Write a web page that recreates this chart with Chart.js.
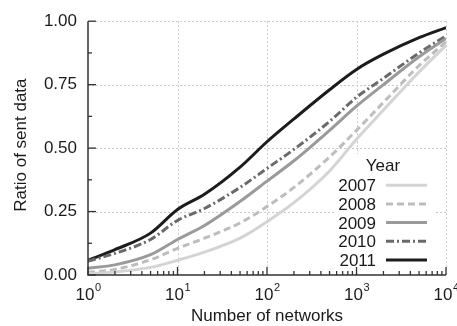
<!DOCTYPE html>
<html>
<head>
<meta charset="utf-8">
<script src="https://cdn.jsdelivr.net/npm/chart.js@4/dist/chart.umd.min.js"></script>
<style>
html,body{margin:0;padding:0;background:#fff;}
#wrap{width:457px;height:326px;position:relative;}
</style>
</head>
<body>
<div id="wrap"><canvas id="c" width="457" height="326"></canvas></div>
<script>
// ---- data ----
const years = ['2007', '2008', '2009', '2010', '2011'];
const networks = [1, 2, 5, 10, 20, 50, 100, 200, 500, 1000, 2000, 5000, 10000];
const s2007 = [0.005, 0.012, 0.030, 0.058, 0.090, 0.145, 0.210, 0.285, 0.410, 0.535, 0.650, 0.800, 0.905];
const s2008 = [0.010, 0.022, 0.060, 0.105, 0.145, 0.205, 0.270, 0.345, 0.465, 0.570, 0.680, 0.825, 0.918];
const s2009 = [0.027, 0.040, 0.080, 0.140, 0.195, 0.290, 0.370, 0.450, 0.570, 0.665, 0.750, 0.860, 0.932];
const s2010 = [0.055, 0.085, 0.140, 0.215, 0.262, 0.345, 0.420, 0.495, 0.605, 0.700, 0.775, 0.875, 0.942];
const s2011 = [0.058, 0.100, 0.165, 0.258, 0.318, 0.425, 0.525, 0.615, 0.730, 0.810, 0.870, 0.935, 0.975];
const yTickValues = [0, 0.25, 0.5, 0.75, 1.0];
const xTickExponents = [0, 1, 2, 3, 4];
const xTitle = 'Number of networks';
const yTitle = 'Ratio of sent data';
const legendTitle = 'Year';

const seriesValues = [s2007, s2008, s2009, s2010, s2011];
const colors = ['#d4d4d4', '#bdbdbd', '#9a9a9a', '#6a6a6a', '#1c1c1c'];
const dashes = [[], [7, 4], [], [8, 3, 2, 3], []];
const widths = [3, 3, 3, 3, 3];

const FONT = "'Liberation Sans', Arial, Helvetica, sans-serif";
const TEXT = '#1a1a1a';
Chart.defaults.font.family = FONT;
Chart.defaults.color = TEXT;

const datasets = years.map((yr, i) => ({
  label: yr,
  data: networks.map((n, j) => ({ x: n, y: seriesValues[i][j] })),
  borderColor: colors[i],
  backgroundColor: colors[i],
  borderWidth: widths[i],
  borderDash: dashes[i],
  borderCapStyle: 'butt',
  pointRadius: 0,
  cubicInterpolationMode: 'monotone',
  fill: false
}));

const decor = {
  id: 'decor',
  beforeDatasetsDraw(chart) {
    const { ctx, chartArea: a, scales: { x, y } } = chart;
    ctx.save();
    ctx.strokeStyle = '#c9c9c9';
    ctx.lineWidth = 1;
    ctx.setLineDash([2, 2]);
    xTickExponents.slice(1).forEach(e => {
      const px = Math.round(x.getPixelForValue(Math.pow(10, e))) + 0.5;
      ctx.beginPath(); ctx.moveTo(px, a.top); ctx.lineTo(px, a.bottom); ctx.stroke();
    });
    yTickValues.slice(1).forEach(v => {
      const py = Math.round(y.getPixelForValue(v)) + 0.5;
      ctx.beginPath(); ctx.moveTo(a.left, py); ctx.lineTo(a.right, py); ctx.stroke();
    });
    ctx.setLineDash([]);
    // legend background
    ctx.fillStyle = '#ffffff';
    ctx.fillRect(a.right - 110, a.top + 133, 100, 117);
    ctx.restore();
  },
  afterDatasetsDraw(chart) {
    const { ctx, chartArea: a, scales: { x, y } } = chart;
    ctx.save();
    ctx.strokeStyle = '#333333';
    ctx.lineWidth = 1.5;
    // axes
    ctx.beginPath();
    ctx.moveTo(a.left, a.top); ctx.lineTo(a.left, a.bottom); ctx.lineTo(a.right, a.bottom);
    ctx.stroke();
    ctx.lineWidth = 1.3;
    // y ticks (inward)
    for (let k = 0; k <= 8; k++) {
      const v = k * 0.125;
      const py = y.getPixelForValue(v);
      const len = (k % 2 === 0) ? 8 : 4;
      ctx.beginPath(); ctx.moveTo(a.left, py); ctx.lineTo(a.left + len, py); ctx.stroke();
    }
    // x ticks (inward)
    for (let e = 0; e <= 4; e++) {
      const base = Math.pow(10, e);
      const px = x.getPixelForValue(base);
      ctx.beginPath(); ctx.moveTo(px, a.bottom); ctx.lineTo(px, a.bottom - 8); ctx.stroke();
      if (e < 4) {
        for (let m = 2; m <= 9; m++) {
          const qx = x.getPixelForValue(m * base);
          ctx.beginPath(); ctx.moveTo(qx, a.bottom); ctx.lineTo(qx, a.bottom - 4); ctx.stroke();
        }
      }
    }
    // x tick labels 10^e
    ctx.fillStyle = TEXT;
    ctx.textBaseline = 'alphabetic';
    ctx.textAlign = 'left';
    xTickExponents.forEach(e => {
      const px = x.getPixelForValue(Math.pow(10, e));
      ctx.font = '17px ' + FONT;
      const w1 = ctx.measureText('10').width;
      ctx.font = '11px ' + FONT;
      const w2 = ctx.measureText(String(e)).width;
      const start = px - (w1 + w2) / 2;
      ctx.font = '17px ' + FONT;
      ctx.fillText('10', start, a.bottom + 25);
      ctx.font = '11px ' + FONT;
      ctx.fillText(String(e), start + w1 + 0.5, a.bottom + 16);
    });
    // axis titles
    ctx.font = '17px ' + FONT;
    ctx.textAlign = 'center';
    ctx.fillText(xTitle, (a.left + a.right) / 2, a.bottom + 46);
    ctx.save();
    ctx.translate(26, (a.top + a.bottom) / 2 - 3);
    ctx.rotate(-Math.PI / 2);
    ctx.fillText(yTitle, 0, 0);
    ctx.restore();
    // legend
    const lx = a.right - 70;
    ctx.textAlign = 'center';
    ctx.font = '17px ' + FONT;
    ctx.fillText(legendTitle, a.right - 63, a.top + 150);
    chart.data.datasets.forEach((ds, i) => {
      const by = a.top + 170 + i * 18.7;
      ctx.textAlign = 'right';
      ctx.fillStyle = TEXT;
      ctx.font = '17px ' + FONT;
      ctx.fillText(ds.label, lx, by);
      ctx.strokeStyle = ds.borderColor;
      ctx.lineWidth = ds.borderWidth;
      ctx.setLineDash(ds.borderDash || []);
      ctx.lineCap = 'butt';
      ctx.beginPath();
      ctx.moveTo(lx + 10, by - 6);
      ctx.lineTo(lx + 51, by - 6);
      ctx.stroke();
      ctx.setLineDash([]);
    });
    ctx.restore();
  }
};

new Chart(document.getElementById('c'), {
  type: 'line',
  data: { datasets },
  options: {
    responsive: false,
    animation: false,
    layout: { padding: { top: 15, right: 11, left: 0, bottom: 0 } },
    plugins: { legend: { display: false }, tooltip: { enabled: false } },
    scales: {
      x: {
        type: 'logarithmic',
        min: 1, max: 10000,
        grid: { display: false, drawTicks: false },
        border: { display: false },
        ticks: { display: false },
        afterFit(s) { s.height = 51; }
      },
      y: {
        type: 'linear',
        min: 0, max: 1,
        afterBuildTicks(s) { s.ticks = yTickValues.map(v => ({ value: v })); },
        grid: { display: false, drawTicks: false },
        border: { display: false },
        ticks: {
          padding: 11,
          color: TEXT,
          font: { size: 17 },
          callback: v => Number(v).toFixed(2)
        },
        afterFit(s) { s.width = 88; }
      }
    }
  },
  plugins: [decor]
});
</script>
</body>
</html>
